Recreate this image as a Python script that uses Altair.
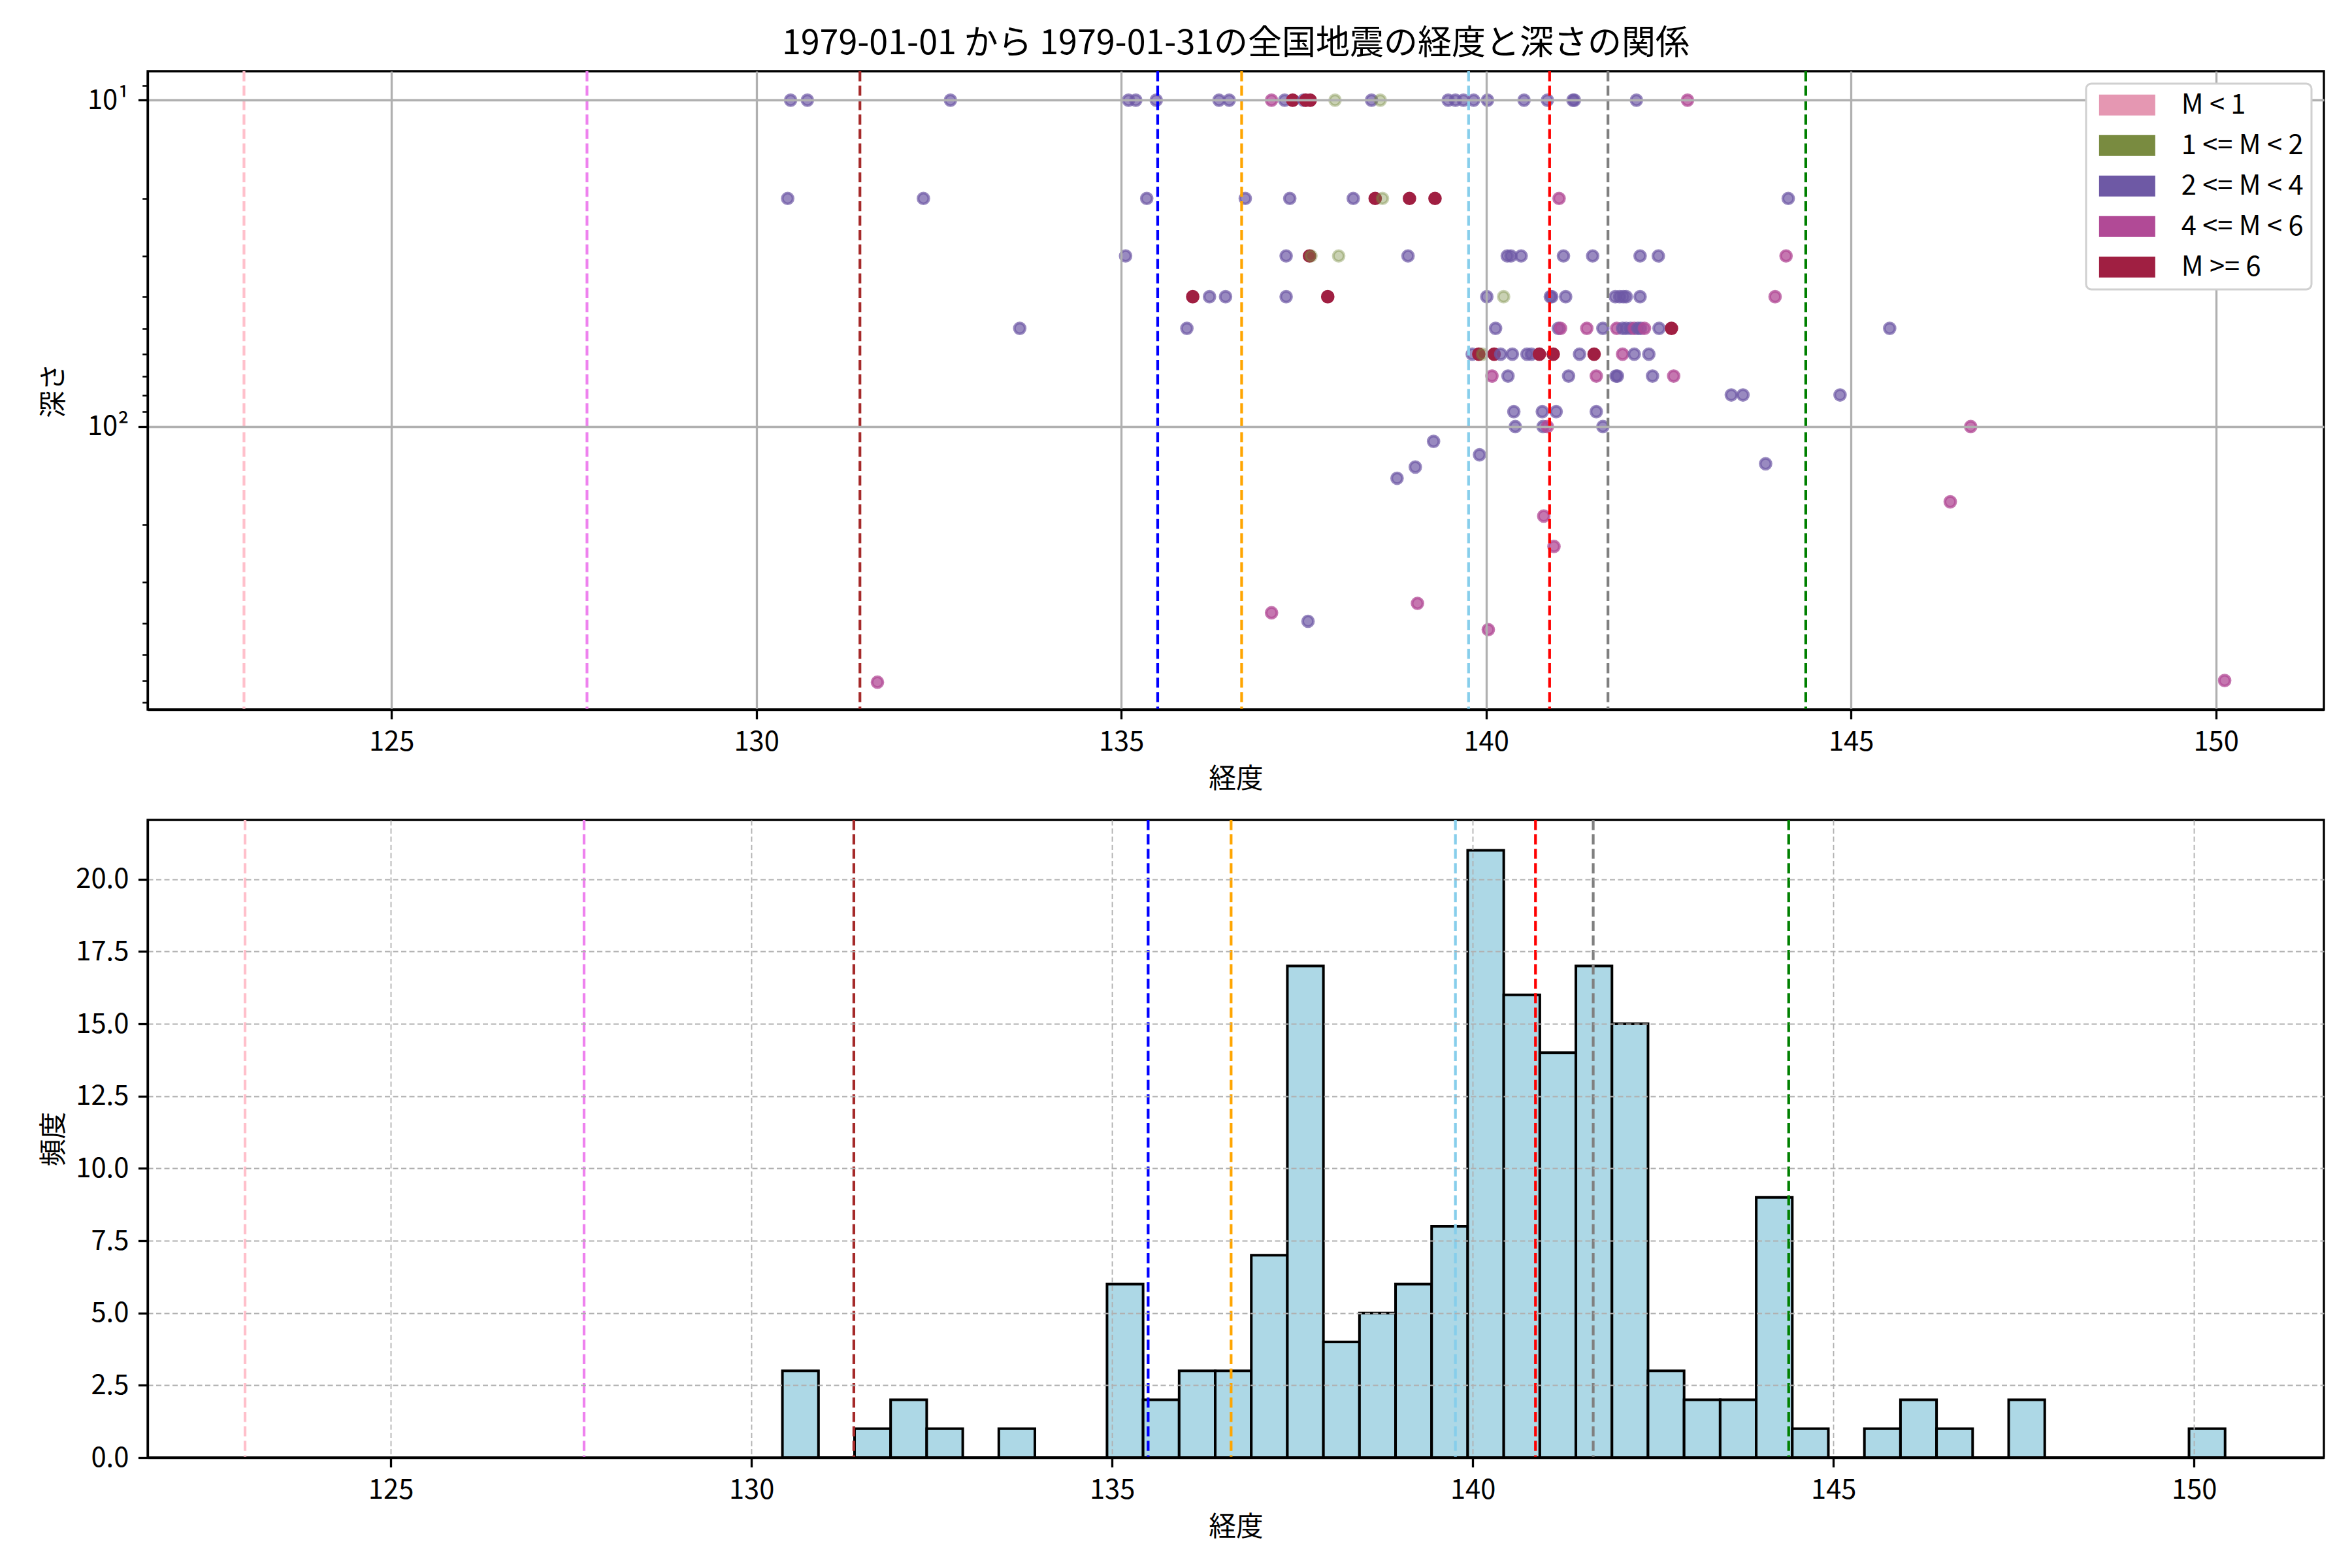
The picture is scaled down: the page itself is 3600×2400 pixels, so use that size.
import altair as alt
import pandas as pd

FONT = "Noto Sans CJK JP"
title_text = "1979-01-01 から 1979-01-31の全国地震の経度と深さの関係"

# magnitude classes
mag_labels = ["M < 1", "1 <= M < 2", "2 <= M < 4", "4 <= M < 6", "M >= 6"]
mag_colors = ["#e597b2", "#798b40", "#6e59a5", "#b14a96", "#a01f42"]
mag_alpha = [0.3, 0.4, 0.7, 0.75, 1.0]

# scatter data (longitude, depth km, magnitude class index)
eq_lon = [
    # depth 10
    130.47, 130.70, 132.66, 135.10, 135.20, 135.48, 136.34, 136.48, 137.06, 137.24,
    137.35, 137.50, 137.53, 137.59, 137.93, 138.43, 138.55, 139.48, 139.58, 139.69,
    139.83, 140.02, 140.52, 140.84, 141.19, 141.21, 142.06, 142.76,
    # depth 20
    130.43, 132.29, 135.35, 136.70, 137.31, 138.18, 138.48, 138.58, 138.95, 139.30,
    141.00, 144.14,
    # depth 30
    135.06, 137.26, 137.58, 137.60, 137.98, 138.93, 140.29, 140.34, 140.48, 141.06,
    141.46, 142.11, 142.36, 144.11,
    # depth 40
    135.98, 136.21, 136.43, 137.26, 137.83, 140.01, 140.24, 140.88, 140.90, 141.09,
    141.77, 141.83, 141.88, 141.92, 142.11, 143.96,
    # depth 50
    133.61, 135.90, 140.13, 140.99, 141.02, 141.38, 141.60, 141.79, 141.87, 141.92,
    141.98, 142.03, 142.08, 142.12, 142.17, 142.37, 142.54, 145.53,
    # depth 60
    139.81, 139.90, 139.95, 140.11, 140.20, 140.36, 140.56, 140.62, 140.73, 140.92,
    141.28, 141.48, 141.87, 142.03, 142.23,
    # depth 70
    140.08, 140.30, 141.13, 141.51, 141.78, 141.80, 142.28, 142.57,
    # depth 80
    143.36, 143.52, 144.85,
    # depth 90
    140.38, 140.77, 140.96, 141.51,
    # depth 100
    140.40, 140.78, 140.84, 141.60, 146.64,
    # deeper
    139.28, 139.91, 143.83, 139.03, 138.78, 146.36, 140.79, 140.93, 139.06, 137.06,
    137.56, 140.03, 131.66, 150.12,
]
eq_depth = (
    [10] * 28 + [20] * 12 + [30] * 14 + [40] * 16 + [50] * 18 + [60] * 15
    + [70] * 8 + [80] * 3 + [90] * 4 + [100] * 5
    + [111, 122, 130, 133, 144, 170, 188, 233, 348, 372, 395, 419, 607, 600]
)
eq_mag = [
    2, 2, 2, 2, 2, 2, 2, 2, 3, 2, 4, 2, 4, 4, 1, 2, 1, 2, 2, 2, 2, 2, 2, 2, 2, 2, 2, 3,
    2, 2, 2, 2, 2, 2, 4, 1, 4, 4, 3, 2,
    2, 2, 4, 1, 1, 2, 2, 2, 2, 2, 2, 2, 2, 3,
    4, 2, 2, 2, 4, 2, 1, 2, 2, 2, 2, 2, 2, 2, 2, 3,
    2, 2, 2, 2, 3, 3, 2, 3, 2, 2, 2, 3, 2, 2, 3, 2, 4, 2,
    2, 4, 1, 4, 2, 2, 2, 2, 4, 4, 2, 4, 3, 2, 2,
    3, 2, 2, 3, 2, 2, 2, 3,
    2, 2, 2,
    2, 2, 2, 2,
    2, 2, 3, 2, 3,
    2, 2, 2, 2, 2, 3, 3, 3, 3, 3, 2, 3, 3, 3,
]

# reference longitudes (dashed lines)
line_lon = [122.98, 127.68, 131.42, 135.50, 136.65, 139.76, 140.87, 141.67, 144.38]
line_color = ["pink", "violet", "brown", "blue", "orange", "skyblue", "red", "gray", "green"]

# histogram (bin width 0.5 from 130.43)
hist_start = 130.43
hist_width = 0.5
hist_counts = [3, 0, 1, 2, 1, 0, 1, 0, 0, 6, 2, 3, 3, 7, 17, 4, 5, 6, 8, 21,
               16, 14, 17, 15, 3, 2, 2, 9, 1, 0, 1, 2, 1, 0, 2, 0, 0, 0, 0, 1]

x_ticks = [125, 130, 135, 140, 145, 150]
depth_ticks = [9, 10, 20, 30, 40, 50, 60, 70, 80, 90, 100, 200, 300, 400, 500, 600, 700]
count_ticks = [0, 2.5, 5, 7.5, 10, 12.5, 15, 17.5, 20]

df_eq = pd.DataFrame({
    "lon": eq_lon,
    "depth": eq_depth,
    "mag": [mag_labels[m] for m in eq_mag],
    "col": [mag_colors[m] for m in eq_mag],
    "alpha": [mag_alpha[m] for m in eq_mag],
})
df_hist = pd.DataFrame({
    "b0": [round(hist_start + hist_width * i, 3) for i in range(len(hist_counts))],
    "b1": [round(hist_start + hist_width * (i + 1), 3) for i in range(len(hist_counts))],
    "count": hist_counts,
})

PW = 3331
AX_EXT = 111
major = "datum.value == 10 || datum.value == 100"

xs_top = alt.Scale(domain=[121.66, 151.48], nice=False, zero=False)
ys_top = alt.Scale(type="log", domain=[8.15, 736], reverse=True, nice=False)
xs_bot = alt.Scale(domain=[121.63, 151.80], nice=False, zero=False)
ys_bot = alt.Scale(domain=[0, 22.05], nice=False, zero=False)

x_axis_top = alt.Axis(values=x_ticks, format="d", grid=True, gridColor="#b0b0b0",
                      gridWidth=3.3, zindex=1, labelOverlap=False, labelFlush=False,
                      titlePadding=16)
y_axis_top = alt.Axis(
    values=depth_ticks,
    labelExpr="datum.value == 10 ? '10\u00b9' : (datum.value == 100 ? '10\u00b2' : '')",
    grid=True, gridColor="#b0b0b0", gridWidth=3.3,
    gridOpacity={"condition": {"test": major, "value": 1}, "value": 0},
    tickSize={"condition": {"test": major, "value": 14.6}, "value": 8.3},
    tickWidth={"condition": {"test": major, "value": 3.3}, "value": 2.5},
    zindex=1, labelOverlap=False, labelFlush=False,
    minExtent=AX_EXT, maxExtent=AX_EXT, titlePadding=11,
)
x_axis_bot = alt.Axis(values=x_ticks, format="d", grid=True, gridColor="#b0b0b0",
                      gridWidth=1.8, gridDash=[8, 4.5], zindex=1, labelOverlap=False,
                      labelFlush=False, titlePadding=16)
y_axis_bot = alt.Axis(values=count_ticks, format=".1f", grid=True, gridColor="#b0b0b0",
                      gridWidth=1.8, gridDash=[8, 4.5], zindex=1, labelOverlap=False,
                      labelFlush=False, minExtent=AX_EXT, maxExtent=AX_EXT, titlePadding=11)

# legend patch: 86 x 32 px rectangle (size 1024 -> unit = 16 px)
legend = alt.Legend(
    title=None, orient="top-right", offset=19, padding=12, rowPadding=19,
    symbolType="M-2.6875,-1L2.6875,-1L2.6875,1L-2.6875,1Z", symbolSize=1024,
    symbolOffset=30, symbolStrokeWidth=0, symbolOpacity=1, labelFont=FONT,
    labelFontSize=41.7, labelColor="black", labelOffset=62, labelLimit=0,
    strokeColor="#d0d0d0", fillColor="white", cornerRadius=8,
)

points = alt.Chart(df_eq).mark_point(filled=True, size=272, strokeWidth=4.2, opacity=1).encode(
    x=alt.X("lon:Q", scale=xs_top, axis=x_axis_top, title="経度"),
    y=alt.Y("depth:Q", scale=ys_top, axis=y_axis_top, title="深さ"),
    color=alt.Color("mag:N", scale=alt.Scale(domain=mag_labels, range=mag_colors), legend=legend),
    stroke=alt.Stroke("col:N", scale=None, legend=None),
    fillOpacity=alt.FillOpacity("alpha:Q", scale=None, legend=None),
    strokeOpacity=alt.StrokeOpacity("alpha:Q", scale=None, legend=None),
)

def vlines(xscale, xaxis):
    out = []
    for lon, col in zip(line_lon, line_color):
        out.append(
            alt.Chart(pd.DataFrame({"lon": [lon]}))
            .mark_rule(color=col, strokeWidth=4.2, strokeDash=[15.4, 6.7])
            .encode(x=alt.X("lon:Q", scale=xscale, axis=xaxis, title="経度"))
        )
    return out

top = alt.layer(points, *vlines(xs_top, x_axis_top)).properties(
    width=PW, height=977,
    title=alt.TitleParams(text=title_text, font=FONT, fontSize=52, fontWeight="normal",
                          color="black", anchor="middle", frame="group", offset=-28,
                          baseline="alphabetic"),
)

bars = alt.Chart(df_hist).mark_bar(fill="#add8e6", stroke="black", strokeWidth=4, opacity=1).encode(
    x=alt.X("b0:Q", scale=xs_bot, axis=x_axis_bot, title="経度"),
    x2="b1:Q",
    y=alt.Y("count:Q", scale=ys_bot, axis=y_axis_bot, title="頻度"),
    y2=alt.datum(0),
)

bottom = alt.layer(bars, *vlines(xs_bot, x_axis_bot)).properties(width=PW, height=976)

chart = (
    alt.vconcat(top, bottom, spacing=34)
    .properties(padding={"left": 52, "top": 31, "right": 5, "bottom": 5}, background="white")
    .configure_axis(labelFont=FONT, titleFont=FONT, labelFontSize=41.7, titleFontSize=41.7,
                    titleFontWeight="normal", labelColor="black", titleColor="black",
                    tickColor="black", domainColor="black", domainWidth=3.3,
                    tickWidth=3.3, tickSize=14.6, labelPadding=14.6)
    .configure_view(stroke="black", strokeWidth=3.3)
    .configure_legend(strokeWidth=3)
)

chart.save("out.html", embed_options={"renderer": "svg", "actions": False})
